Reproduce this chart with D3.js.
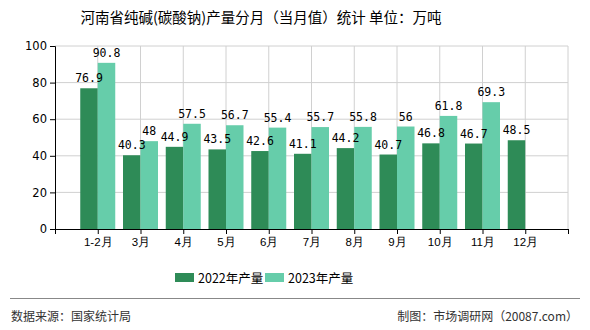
<!DOCTYPE html>
<html><head><meta charset="utf-8">
<script src="https://cdn.jsdelivr.net/npm/d3@7"></script>
<style>
body{margin:0;background:#fff;}
svg{display:block;font-family:"Noto Sans CJK SC","DejaVu Sans",sans-serif;}
</style></head>
<body><svg id="c" width="590" height="330"></svg>
<script>
const categories = ["1-2月","3月","4月","5月","6月","7月","8月","9月","10月","11月","12月"];
const seriesNames = ["2022年产量","2023年产量"];
const values2022 = [76.9,40.3,44.9,43.5,42.6,41.1,44.2,40.7,46.8,46.7,48.5];
const values2023 = [90.8,48,57.5,56.7,55.4,55.7,55.8,56,61.8,69.3,null];
const yTicks = [0,20,40,60,80,100];
const colors = ["#2e8b57","#66cdaa"];

const svg = d3.select("#c");
const L = 55, R = 568, T = 46, B = 229;

// categories sit on interior ticks of a 12-step axis
const x = d3.scalePoint().domain(["", ...categories, " "]).range([L, R]);
const y = d3.scaleLinear().domain([0,100]).range([B, T]);
const barW = 17.5;

// title
svg.append("text").attr("x",261).attr("y",23).attr("text-anchor","middle")
  .attr("font-size",14.5).attr("fill","#000").text("河南省纯碱(碳酸钠)产量分月（当月值）统计 单位：万吨");

// grid
const g = svg.append("g");
g.selectAll(".hg").data(yTicks.slice(1)).join("line")
  .attr("x1",L).attr("x2",R).attr("y1",d=>y(d)).attr("y2",d=>y(d))
  .attr("stroke","#d0d0d0").attr("stroke-width",1);
g.selectAll(".vg").data(x.domain().slice(1)).join("line")
  .attr("x1",d=>x(d)).attr("x2",d=>x(d)).attr("y1",T).attr("y2",B)
  .attr("stroke","#d0d0d0").attr("stroke-width",1);

// bars, then value labels on top
const data = categories.map((c,i)=>({c, v:[values2022[i], values2023[i]]}));
const barLayer = svg.append("g"), labelLayer = svg.append("g");
[0,1].forEach(s=>{
  const items = data.filter(d=>d.v[s]!=null);
  barLayer.append("g").selectAll("rect").data(items).join("rect")
    .attr("x",d=>x(d.c) + (s===0 ? -barW : 0))
    .attr("y",d=>y(d.v[s])).attr("width",barW).attr("height",d=>B-y(d.v[s]))
    .attr("fill",colors[s]);
  labelLayer.append("g").selectAll("text").data(items).join("text")
    .attr("x",d=>x(d.c) + (s===0 ? -barW/2 : barW/2))
    .attr("y",d=>y(d.v[s])-6)
    .attr("text-anchor","middle").attr("font-size",11.5)
    .attr("font-family","'DejaVu Sans Mono',monospace")
    .attr("fill","#000").text(d=>d.v[s]);
});

// axes
const yAxis = svg.append("g").attr("transform",`translate(${L},0)`)
  .call(d3.axisLeft(y).tickValues(yTicks).tickSize(5).tickPadding(3));
yAxis.select(".domain").attr("stroke","#000");
yAxis.selectAll("text").attr("font-size",11.5).attr("fill","#000")
  .attr("font-family","'DejaVu Sans',sans-serif");

const xAxis = svg.append("g").attr("transform",`translate(0,${B})`)
  .call(d3.axisBottom(x).tickSize(5).tickPadding(4).tickSizeOuter(0));
xAxis.select(".domain").attr("stroke","#000");
xAxis.selectAll("text").attr("font-size",11.5).attr("fill","#000");

// legend
const lg = svg.append("g");
[[175,198],[265,288]].forEach((p,i)=>{
  lg.append("rect").attr("x",p[0]).attr("y",273).attr("width",19).attr("height",9).attr("fill",colors[i]);
  lg.append("text").attr("x",p[1]).attr("y",283).attr("font-size",12.5).attr("fill","#000").text(seriesNames[i]);
});

// footer
svg.append("line").attr("x1",10).attr("x2",580).attr("y1",298.5).attr("y2",298.5)
  .attr("stroke","#888").attr("stroke-width",1);
svg.append("text").attr("x",11).attr("y",321).attr("font-size",12).attr("fill","#333").text("数据来源：国家统计局");
svg.append("text").attr("x",578).attr("y",321).attr("text-anchor","end").attr("font-size",12).attr("fill","#333").text("制图：市场调研网（20087.com）");
</script></body></html>
